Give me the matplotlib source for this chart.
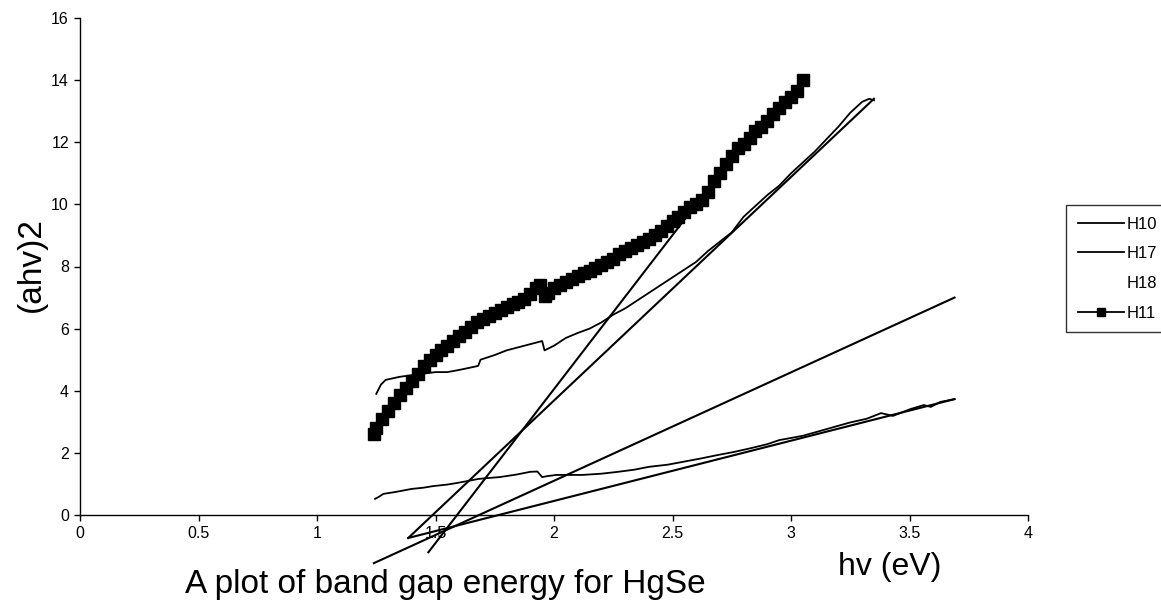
import numpy as np
import matplotlib.pyplot as plt

plt.rcParams['font.family'] = ['Liberation Sans', 'DejaVu Sans']

# H10 absorption curve
h10_x = [1.245, 1.26, 1.28, 1.33, 1.40, 1.45, 1.49, 1.55, 1.59, 1.64, 1.68, 1.72, 1.77,
         1.84, 1.90, 1.93, 1.95, 1.97, 2.01, 2.06, 2.12, 2.20, 2.27, 2.34, 2.40, 2.48,
         2.55, 2.62, 2.69, 2.76, 2.83, 2.90, 2.95, 3.05, 3.12, 3.18, 3.25, 3.32, 3.38,
         3.43, 3.50, 3.56, 3.59, 3.63, 3.69]
h10_y = [0.52, 0.58, 0.68, 0.74, 0.84, 0.88, 0.93, 0.98, 1.03, 1.10, 1.16, 1.19, 1.22,
         1.30, 1.39, 1.40, 1.22, 1.25, 1.29, 1.29, 1.29, 1.33, 1.39, 1.46, 1.55, 1.62,
         1.72, 1.82, 1.93, 2.03, 2.15, 2.28, 2.41, 2.55, 2.70, 2.83, 2.98, 3.10, 3.28,
         3.19, 3.40, 3.54, 3.48, 3.64, 3.73]

# H17 absorption curve
h17_x = [1.25, 1.27, 1.29, 1.32, 1.35, 1.40, 1.45, 1.50, 1.55, 1.60, 1.65, 1.68, 1.69,
         1.75, 1.80, 1.85, 1.90, 1.95, 1.96, 2.00, 2.05, 2.10, 2.15, 2.20, 2.25, 2.30,
         2.35, 2.40, 2.45, 2.50, 2.55, 2.60, 2.65, 2.70, 2.75, 2.80, 2.85, 2.90, 2.95,
         3.00, 3.05, 3.10, 3.15, 3.20, 3.25, 3.30, 3.33, 3.35]
h17_y = [3.90, 4.20, 4.35, 4.40, 4.45, 4.50, 4.55, 4.60, 4.60, 4.67, 4.75, 4.80, 5.00,
         5.15, 5.30, 5.40, 5.50, 5.60, 5.30, 5.45, 5.70, 5.86, 6.00, 6.20, 6.45, 6.65,
         6.90, 7.15, 7.40, 7.65, 7.90, 8.15, 8.50, 8.80, 9.10, 9.60, 9.95, 10.30, 10.60,
         11.00, 11.35, 11.70, 12.10, 12.50, 12.95, 13.30, 13.40, 13.35]

# H11 absorption curve (square markers)
h11_x = [1.24, 1.25, 1.275, 1.30, 1.325, 1.35, 1.375, 1.40, 1.425, 1.45, 1.475, 1.50,
         1.525, 1.55, 1.575, 1.60, 1.625, 1.65, 1.675, 1.70, 1.725, 1.75, 1.775, 1.80,
         1.825, 1.85, 1.875, 1.90, 1.925, 1.94, 1.96, 1.975, 2.00, 2.025, 2.05, 2.075,
         2.10, 2.125, 2.15, 2.175, 2.20, 2.225, 2.25, 2.275, 2.30, 2.325, 2.35, 2.375,
         2.40, 2.425, 2.45, 2.475, 2.50, 2.525, 2.55, 2.575, 2.60, 2.625, 2.65, 2.675,
         2.70, 2.725, 2.75, 2.775, 2.80, 2.825, 2.85, 2.875, 2.90, 2.925, 2.95, 2.975,
         3.00, 3.025, 3.05]
h11_y = [2.60, 2.80, 3.10, 3.35, 3.60, 3.85, 4.10, 4.30, 4.55, 4.80, 5.00, 5.15,
         5.30, 5.45, 5.60, 5.75, 5.90, 6.05, 6.20, 6.30, 6.40, 6.50, 6.60, 6.70,
         6.80, 6.85, 6.95, 7.10, 7.30, 7.40, 7.05, 7.15, 7.30, 7.40, 7.50, 7.60,
         7.70, 7.80, 7.85, 7.95, 8.05, 8.15, 8.25, 8.40, 8.50, 8.60, 8.70, 8.80,
         8.90, 9.00, 9.15, 9.30, 9.45, 9.60, 9.75, 9.90, 10.00, 10.15, 10.40, 10.75,
         11.00, 11.30, 11.55, 11.80, 11.95, 12.15, 12.35, 12.50, 12.70, 12.90, 13.10, 13.30,
         13.45, 13.65, 14.00]

# hand-drawn tangent lines: (x0, y0, x1, y1)
tangents = [
    (1.385, -0.74, 3.35, 13.4),
    (1.47, -1.20, 2.60, 10.0),
    (1.24, -1.55, 3.69, 7.0),
    (1.385, -0.74, 3.69, 3.73),
]

fig = plt.figure(figsize=(11.61, 6.12), dpi=100)
ax = fig.add_axes([80 / 1161, 1 - 515 / 612, (1028 - 80) / 1161, (515 - 18) / 612])

ax.plot(h10_x, h10_y, color='black', lw=1.3, label='H10')
ax.plot(h17_x, h17_y, color='black', lw=1.3, label='H17')
ax.plot([], [], linestyle='none', label='H18')
ax.plot(h11_x, h11_y, color='black', lw=1.3, marker='s', ms=9, label='H11')

for x0, y0, x1, y1 in tangents:
    ax.plot([x0, x1], [y0, y1], color='black', lw=1.5, clip_on=False)

ax.set_xlim(0, 4)
ax.set_ylim(0, 16)
ax.set_xticks(np.arange(0, 4.01, 0.5))
ax.set_xticklabels(['0', '0.5', '1', '1.5', '2', '2.5', '3', '3.5', '4'])
ax.set_yticks(np.arange(0, 17, 2))
ax.tick_params(direction='out', length=4, width=1, labelsize=11.5, pad=4)
for side in ('top', 'right'):
    ax.spines[side].set_visible(False)
for side in ('left', 'bottom'):
    ax.spines[side].set_linewidth(1)

fig.text(31 / 1161, 1 - 265 / 612, '(ahv)2', rotation=90, fontsize=24,
         ha='center', va='center')
fig.text(890 / 1161, 1 - 567 / 612, 'hv (eV)', fontsize=23, ha='center', va='center')
fig.text(445 / 1161, 1 - 585 / 612, 'A plot of band gap energy for HgSe', fontsize=24,
         ha='center', va='center')

leg = ax.legend(loc='upper left', bbox_to_anchor=(1066 / 1161, 1 - 205 / 612),
                bbox_transform=fig.transFigure, frameon=True, fancybox=False,
                fontsize=12, handlelength=2.8, handletextpad=0.15, labelspacing=0.88,
                borderpad=0.7, markerscale=0.7, borderaxespad=0)
leg.get_frame().set_edgecolor('black')
leg.get_frame().set_linewidth(1)

fig.savefig('out.png', dpi=100)
